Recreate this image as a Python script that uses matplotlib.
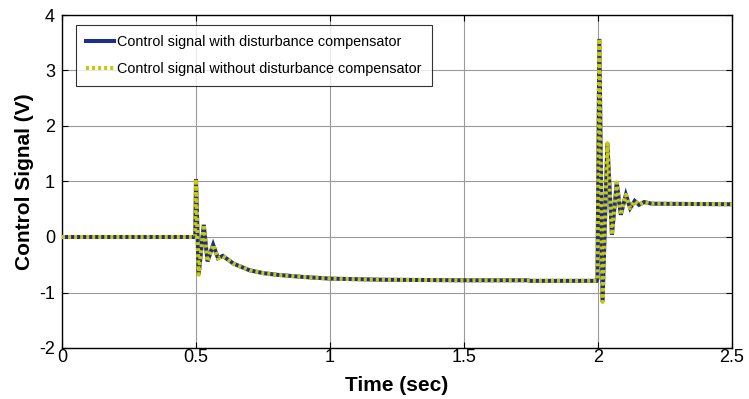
import matplotlib
matplotlib.use("Agg")
import matplotlib.pyplot as plt
import numpy as np

plt.rcParams["font.family"] = ["Liberation Sans", "DejaVu Sans"]
plt.rcParams["axes.unicode_minus"] = False

# time (sec) and control signal (V)
t_pts = [0.0, 0.497, 0.500, 0.510, 0.529, 0.543, 0.564, 0.582, 0.600, 0.640,
         0.680, 0.700, 0.750, 0.800, 0.900, 1.000, 1.200, 1.500, 1.740, 1.745,
         1.995, 1.998, 2.005, 2.017, 2.035, 2.052, 2.070, 2.085, 2.104, 2.120,
         2.137, 2.153, 2.172, 2.200, 2.500]
u_pts = [0.0, 0.0, 1.04, -0.68, 0.22, -0.44, -0.14, -0.38, -0.34, -0.48,
         -0.56, -0.60, -0.65, -0.68, -0.72, -0.75, -0.77, -0.78, -0.78, -0.79,
         -0.79, -0.75, 3.57, -1.17, 1.69, 0.04, 0.98, 0.40, 0.76, 0.52,
         0.65, 0.58, 0.63, 0.60, 0.59]

label_with = "Control signal with disturbance compensator"
label_without = "Control signal without disturbance compensator"

t = np.asarray(t_pts)
u = np.asarray(u_pts)

fig = plt.figure(figsize=(7.49, 3.99), dpi=100)
ax = fig.add_axes([62 / 749, 1 - 348 / 399, (732 - 62) / 749, (348 - 15) / 399])

ax.plot(t, u, color="#1c2f8c", linewidth=2.9, solid_joinstyle="miter",
        label=label_with, zorder=3)
ax.plot(t, u, color="#c9c900", linewidth=2.9, linestyle=(0, (0.75, 0.75)),
        dash_capstyle="butt", label=label_without, zorder=4)

ax.set_xlim(0, 2.5)
ax.set_ylim(-2, 4)
ax.set_xticks(np.arange(0, 2.51, 0.5))
ax.set_xticklabels(["0", "0.5", "1", "1.5", "2", "2.5"])
ax.set_yticks(np.arange(-2, 4.1, 1))
ax.grid(True, color="#9a9a9a", linewidth=0.8, linestyle="-")
ax.set_axisbelow(True)
ax.tick_params(direction="in", top=True, right=True, labelsize=13,
               length=4, width=0.8)
ax.tick_params(axis="x", pad=1)
ax.tick_params(axis="y", pad=5)
for s in ax.spines.values():
    s.set_linewidth(1.0)

ax.set_xlabel("Time (sec)", fontsize=15, fontweight="bold", labelpad=7)
ax.set_ylabel("Control Signal (V)", fontsize=15, fontweight="bold", labelpad=4)

leg = ax.legend(loc="upper left", bbox_to_anchor=(0.021, 0.97), fontsize=10.4,
                frameon=True, fancybox=False, edgecolor="black",
                handlelength=1.9, handletextpad=0.25, borderpad=0.7,
                labelspacing=0.9, borderaxespad=0)
leg.get_frame().set_linewidth(0.8)

fig.savefig("out.png", dpi=100)
